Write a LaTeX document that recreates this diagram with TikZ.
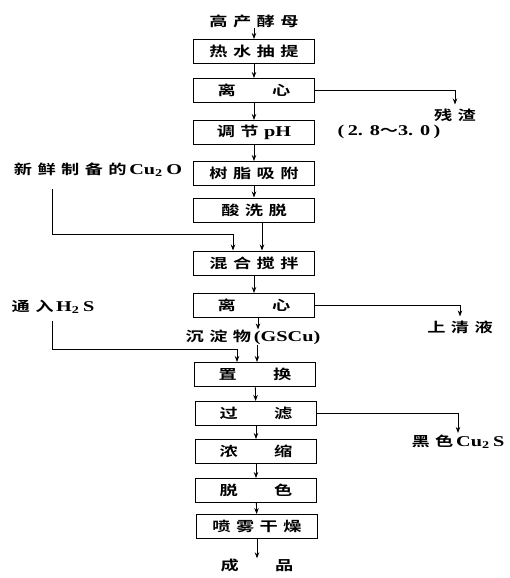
\documentclass[tikz,border=0pt]{standalone}
\usepackage{fontspec}
\setmainfont{Liberation Serif}
\newfontfamily\cjk{Noto Sans CJK SC}[BoldFont={Noto Sans CJK SC Bold}]
\usetikzlibrary{arrows.meta}
\newcommand\zh[1]{\scalebox{1.35}[1]{\fontsize{13.5}{15}\selectfont\bfseries\cjk #1}}
\newcommand\lt[1]{{\rmfamily\bfseries\fontsize{15}{16}\selectfont #1}}
\newcommand\gp{\hspace{4pt}}
\newcommand\sg{\hspace{2pt}}
\newcommand\wg{\hspace{27pt}}
\begin{document}
\begin{tikzpicture}[x=1pt,y=-1pt,
  box/.style={draw, line width=1pt, minimum width=121pt, minimum height=24pt, inner sep=0pt},
  lbl/.style={inner sep=0pt},
  arr/.style={-{Stealth[length=6pt,width=4.5pt]}, line width=0.8pt}]
\useasboundingbox (0,0) rectangle (509,578);
\node[lbl] (src) at (254,21) {\zh{高\gp 产\gp 酵\gp 母}};
\node[box] (b1) at (254,51.5) {\zh{热\gp 水\gp 抽\gp 提}};
\node[box] (b2) at (254,90.5) {\zh{离\wg 心}};
\node[box] (b3) at (254,132.5) {\zh{调\gp 节\gp\lt{pH}}};
\node[box] (b4) at (254,173.5) {\zh{树\gp 脂\gp 吸\gp 附}};
\node[box] (b5) at (254,210) {\zh{酸\gp 洗\gp 脱}};
\node[box] (b6) at (254,263) {\zh{混\gp 合\gp 搅\gp 拌}};
\node[box] (b7) at (254,305.5) {\zh{离\wg 心}};
\node[lbl] (ppt) at (253,337) {\zh{沉\gp 淀\gp 物\sg\lt{(GSCu)}}};
\node[box] (b8) at (255,374.5) {\zh{置\wg 换}};
\node[box] (b9) at (256,413.5) {\zh{过\wg 滤}};
\node[box] (b10) at (256,451.5) {\zh{浓\wg 缩}};
\node[box] (b11) at (256,490.5) {\zh{脱\wg 色}};
\node[box] (b12) at (257,526.5) {\zh{喷\gp 雾\gp 干\gp 燥}};
\node[lbl] (prod) at (257,565) {\zh{成\wg 品}};
\node[lbl] (r1) at (455,115) {\zh{残\gp 渣}};
\node[lbl] (ph) at (389,132) {\zh{\lt{(\,2.\,\,8}～\lt{3.\,\,0\,)}}};
\node[lbl] (cu2o) at (98,170) {\zh{新\gp 鲜\gp 制\gp 备\gp 的\sg\lt{Cu\textsubscript{2}\,O}}};
\node[lbl] (sup) at (460,327) {\zh{上\gp 清\gp 液}};
\node[lbl] (h2s) at (53,307) {\zh{通\gp 入\sg\lt{H\textsubscript{2}\,S}}};
\node[lbl] (cu2s) at (458,442) {\zh{黑\gp 色\sg\lt{Cu\textsubscript{2}\,S}}};
\coordinate (k0) at (52,190);
\coordinate (k1) at (233,234);
\coordinate (k2) at (52,320);
\coordinate (k3) at (237,349);
% main line
\draw[arr] (src.south) -- (src.south |- b1.north);
\draw[arr] (b1) -- (b2);
\draw[arr] (b2) -- (b3);
\draw[arr] (b3) -- (b4);
\draw[arr] (b4) -- (b5);
\draw[arr] ([xshift=8pt]b5.south) -- ([xshift=8pt]b6.north);
\draw[arr] (b6) -- (b7);
\draw[arr] ([xshift=4pt]b7.south) -- ([xshift=4pt]b7.south |- ppt.north);
\draw[arr] ([xshift=4pt]ppt.south) -- ([xshift=4pt]ppt.south |- b8.north);
\draw[arr] (b8) -- (b9);
\draw[arr] (b9) -- (b10);
\draw[arr] (b10) -- (b11);
\draw[arr] (b11) -- (b12);
\draw[arr] (b12.south) -- (b12.south |- prod.north);
% side outputs
\draw[arr, shorten >=4pt] (b2.east) -| (r1.north);
\draw[arr, shorten >=4pt] (b7.east) -| (sup.north);
\draw[arr, shorten >=2pt] (b9.east) -| (cu2s.north);
% side inputs
\draw[arr] (k0 |- cu2o.south) ++(0,12) |- (k1) -- (k1 |- b6.north);
\draw[arr] (k2 |- h2s.south) ++(0,7) |- (k3) -- (k3 |- b8.north);
\end{tikzpicture}
\end{document}
